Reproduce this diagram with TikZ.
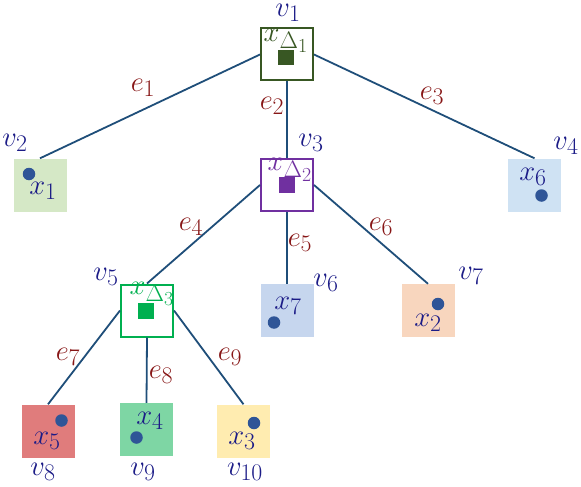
\documentclass[tikz,border=0pt]{standalone}
\definecolor{linecol}{RGB}{31,78,121}
\definecolor{vcol}{RGB}{28,28,135}
\definecolor{ecol}{RGB}{135,22,22}
\definecolor{dotcol}{RGB}{47,85,151}
\definecolor{cone}{RGB}{56,87,35}
\definecolor{ctwo}{RGB}{112,48,160}
\definecolor{cthree}{RGB}{0,176,80}
\definecolor{fa}{RGB}{213,232,198}
\definecolor{fb}{RGB}{207,226,243}
\definecolor{fc}{RGB}{198,214,238}
\definecolor{fd}{RGB}{248,214,190}
\definecolor{fe}{RGB}{224,124,124}
\definecolor{ff}{RGB}{126,214,164}
\definecolor{fg}{RGB}{255,236,176}
\begin{document}
\begin{tikzpicture}[x=1pt,y=-1pt,
  lab/.style={font=\Huge, inner sep=0pt, scale=1.15, transform shape},
  vlab/.style={lab, text=vcol},
  elab/.style={lab, text=ecol},
  ibox/.style={draw=#1, line width=2pt, minimum size=52pt, inner sep=0pt, fill=white},
  leaf/.style={fill=#1, minimum size=53pt, inner sep=0pt},
  sq/.style={fill=#1, minimum size=15.5pt, inner sep=0pt},
  dot/.style={circle, fill=dotcol, minimum size=12.5pt, inner sep=0pt},
  edge/.style={draw=linecol, line width=1.8pt}]
\useasboundingbox (0,0) rectangle (581,487);
% internal nodes
\node[ibox=cone] (v1) at (287,54.5) {};
\node[sq=cone] (s1) at (286,57.5) {};
\node[lab, text=cone] (l1) at (286,41) {$x_{\Delta_1}$};
\node[ibox=ctwo] (v3) at (287,185) {};
\node[sq=ctwo] (s3) at (287,185) {};
\node[lab, text=ctwo] (l3) at (290,170) {$x_{\Delta_2}$};
\node[ibox=cthree] (v5) at (147,310.5) {};
\node[sq=cthree] (s5) at (146,311) {};
\node[lab, text=cthree] (l5) at (152,294) {$x_{\Delta_3}$};
% leaves
\node[leaf=fa] (v2) at (40,185) {};
\node[dot] (d2) at (29,174) {};
\node[vlab] (x2) at (43,191) {$x_1$};
\node[leaf=fb] (v4) at (534.5,185) {};
\node[dot] (d4) at (541.5,195.5) {};
\node[vlab] (x4) at (533,177) {$x_6$};
\node[leaf=fc] (v6) at (287,310.5) {};
\node[dot] (d6) at (274,322.5) {};
\node[vlab] (x6) at (288,306) {$x_7$};
\node[leaf=fd] (v7) at (428,310.5) {};
\node[dot] (d7) at (438,304) {};
\node[vlab] (x7) at (428,323) {$x_2$};
\node[leaf=fe] (v8) at (48,431) {};
\node[dot] (d8) at (61.5,420.5) {};
\node[vlab] (x8) at (47,441) {$x_5$};
\node[leaf=ff] (v9) at (146.5,429.5) {};
\node[dot] (d9) at (136.5,437.5) {};
\node[vlab] (x9) at (150,421) {$x_4$};
\node[leaf=fg] (v10) at (243.5,431) {};
\node[dot] (d10) at (254,423) {};
\node[vlab] (x10) at (242,441) {$x_3$};
% vertex labels
\node[vlab] (n1) at (288,13) {$v_1$};
\node[vlab] (n2) at (15,143) {$v_2$};
\node[vlab] (n3) at (311,143) {$v_3$};
\node[vlab] (n4) at (566,146) {$v_4$};
\node[vlab] (n5) at (106,277) {$v_5$};
\node[vlab] (n6) at (326,283) {$v_6$};
\node[vlab] (n7) at (471,276) {$v_7$};
\node[vlab] (n8) at (43,472) {$v_8$};
\node[vlab] (n9) at (143,472) {$v_9$};
\node[vlab] (n10) at (245,472) {$v_{10}$};
% edges
\draw[edge] (v1.west) -- (v2.north);
\draw[edge] (v1.south) -- (v3.north);
\draw[edge] (v1.east) -- (v4.north);
\draw[edge] (v3.west) -- (v5.north);
\draw[edge] (v3.south) -- (v6.north);
\draw[edge] (v3.east) -- (v7.north);
\draw[edge] (v5.west) -- (v8.north);
\draw[edge] (v5.south) -- (v9.north);
\draw[edge] (v5.east) -- (v10.north);
% edge labels
\node[elab] (e1) at (143,88) {$e_1$};
\node[elab] (e2) at (272,106) {$e_2$};
\node[elab] (e3) at (432,96) {$e_3$};
\node[elab] (e4) at (191,227) {$e_4$};
\node[elab] (e5) at (300,243) {$e_5$};
\node[elab] (e6) at (381,227) {$e_6$};
\node[elab] (e7) at (68,357) {$e_7$};
\node[elab] (e8) at (161,375) {$e_8$};
\node[elab] (e9) at (230,357) {$e_9$};
\end{tikzpicture}
\end{document}
